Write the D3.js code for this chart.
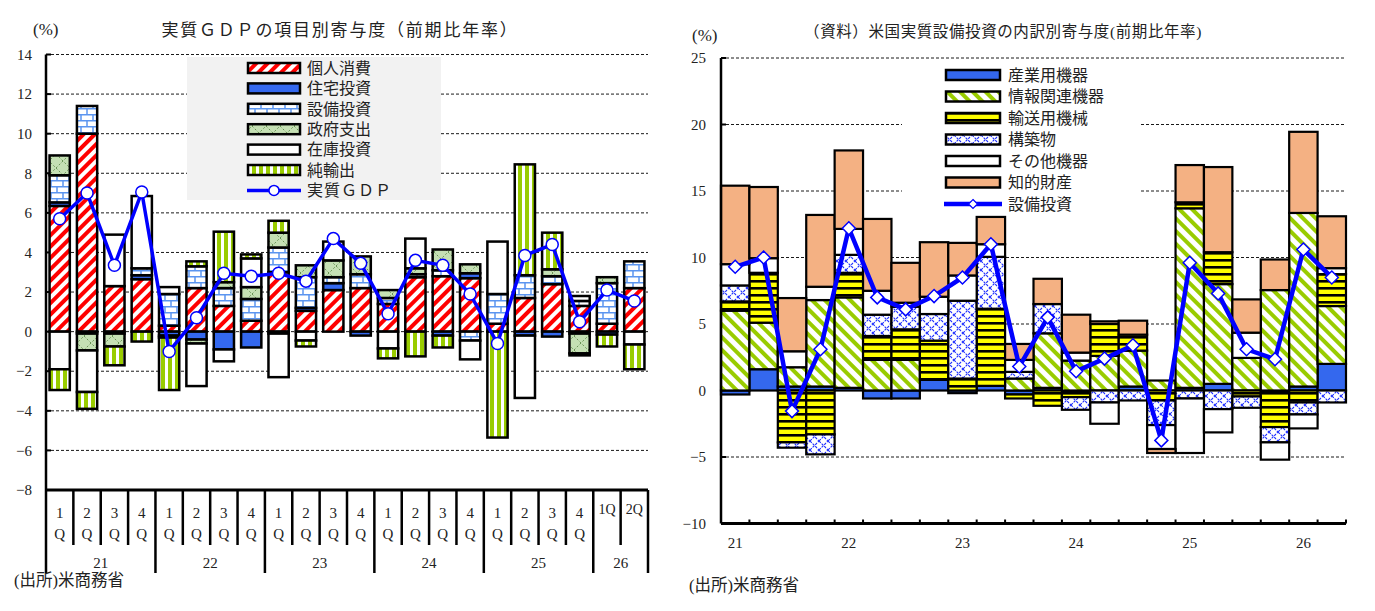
<!DOCTYPE html>
<html>
<head>
<meta charset="utf-8">
<script src="https://cdnjs.cloudflare.com/ajax/libs/d3/7.8.5/d3.min.js"></script>
<style>
body{margin:0;background:#fff;}
text{font-family:"Liberation Serif","Noto Sans CJK JP",serif;fill:#222;}
</style>
</head>
<body>
<div id="chart"></div>
<script>
// 四半期
var quarters=["21Q1","21Q2","21Q3","21Q4","22Q1","22Q2","22Q3","22Q4","23Q1","23Q2","23Q3","23Q4",
              "24Q1","24Q2","24Q3","24Q4","25Q1","25Q2","25Q3","25Q4","26Q1","26Q2"];

// 左：実質GDPの項目別寄与度
var gdpKeys=["pce","res","equip","gov","inv","nx"];
var gdpNames=["個人消費","住宅投資","設備投資","政府支出","在庫投資","純輸出"];
var pce  =[6.35,10.0,2.3,2.65,0.3,2.2,1.3,0.55,3.0,1.05,2.1,2.2,1.4,2.75,2.8,2.7,0.4,1.7,2.4,1.3,0.4,2.2];
var res  =[0.18,-0.1,-0.1,0.2,-0.2,-0.4,-0.9,-0.8,-0.1,0.15,0.35,-0.2,0,0,-0.2,0.25,0,-0.2,-0.25,-0.1,-0.15,0];
var equip=[1.37,1.4,0,0.35,1.6,1.1,0.9,1.1,1.25,1.55,0.3,0.7,0.3,0.15,0.3,-0.45,1.5,1.15,0.4,0.25,2.05,1.35];
var gov  =[1.0,-0.85,-0.65,0,-0.1,-0.2,0.3,0.6,0.75,0.6,0.85,0.9,0.4,0.3,1.05,0.45,0,0,0.35,-1.0,0.3,0];
var inv  =[-1.9,-2.1,2.6,3.65,0.35,-2.15,-0.6,1.45,-2.2,-0.45,0.95,0,-0.85,1.5,0,-0.95,2.65,-3.15,0,0.25,0,-0.65];
var nx   =[-1.05,-0.85,-0.95,-0.5,-2.65,0.25,2.55,0.2,0.6,-0.3,0,0,-0.5,-1.25,-0.6,0,-5.35,5.6,1.85,-0.1,-0.6,-1.25];
var gdp  =[5.7,7.0,3.35,7.05,-1.0,0.7,2.95,2.8,2.95,2.55,4.7,3.45,0.9,3.6,3.35,1.9,-0.6,3.85,4.4,0.5,2.1,1.55];
var gdpTicks=d3.range(-8,15,2);

// 右：米国実質設備投資の内訳別寄与度
var invKeys=["ind","info","trans","struct","other","ip"];
var invNames=["産業用機器","情報関連機器","輸送用機械","構築物","その他機器","知的財産"];
var ind   =[-0.3,1.6,0.3,0.3,0.2,-0.6,-0.6,0.8,-0.2,0.35,-0.3,0.2,-0.15,0,0.3,0,0.2,0.5,0,-0.1,0.3,2.0];
var info  =[6.0,3.5,1.45,6.5,6.8,2.3,2.3,0,0,0,0.9,4.1,2.25,2.6,2.7,0.75,13.5,7.5,2.45,7.55,13.05,4.35];
var trans =[0.7,3.75,-3.9,-3.3,1.85,1.8,2.3,2.95,0.9,5.8,-0.3,-1.15,-0.35,2.4,1.2,-0.75,0.45,2.4,-0.45,-2.65,-0.9,2.4];
var struct=[1.2,0,-0.4,-1.5,1.35,1.6,1.7,2.0,5.85,3.9,0.5,2.2,-0.95,-0.9,-0.75,-1.85,-0.6,-1.4,-0.85,-1.15,-0.9,-0.9];
var other =[1.6,1.1,1.2,1.0,1.95,1.8,0.3,1.3,1.9,0.95,0.9,0,0.6,-1.6,0,-1.8,-4.1,-1.75,1.9,-1.3,-1.05,0.45];
var ip    =[5.9,5.35,4.0,5.4,5.9,5.4,3.0,4.1,2.45,2.05,1.2,1.9,2.85,0.2,1.05,-0.3,2.8,6.4,2.5,2.3,6.1,3.9];
var capex =[9.3,10.0,-1.55,3.1,12.2,7.0,6.1,7.1,8.5,11.0,1.8,5.5,1.45,2.4,3.4,-3.75,9.6,7.3,3.1,2.35,10.6,8.5];
var invTicks=d3.range(-10,26,5);

var svg=d3.select("#chart").append("svg").attr("width",1375).attr("height",611);
var defs=svg.append("defs");

// 模様
function stripes(id,size,bg,color,bw,angle){
  var p=defs.append("pattern").attr("id",id).attr("patternUnits","userSpaceOnUse")
    .attr("width",size).attr("height",size).attr("patternTransform","rotate("+angle+")");
  p.append("rect").attr("width",size).attr("height",size).attr("fill",bg);
  p.append("rect").attr("width",bw).attr("height",size).attr("fill",color);
}
stripes("pPce",8,"#fff","#ff0000",4,45);
stripes("pNx",7,"#fff","#99cc00",4,0);
stripes("pInfo",9,"#fff","#99cc00",4,-45);
stripes("pTrans",7,"#ffff00","#000",2.6,90);

var brick=defs.append("pattern").attr("id","pEquip").attr("patternUnits","userSpaceOnUse").attr("width",12).attr("height",12);
brick.append("rect").attr("width",12).attr("height",12).attr("fill","#fff");
brick.append("path").attr("d","M0,0.75H12M0,6.75H12M3,0.75V6.75M9,6.75V12").attr("stroke","#5b95f0").attr("stroke-width",1.5).attr("fill","none");

var gv=defs.append("pattern").attr("id","pGov").attr("patternUnits","userSpaceOnUse").attr("width",14).attr("height",14);
gv.append("rect").attr("width",14).attr("height",14).attr("fill","#c5e0b4");
gv.append("path").attr("d","M0,14L14,0M0,0L14,14").attr("stroke","#5d8a4a").attr("stroke-width",0.9).attr("stroke-dasharray","2,2").attr("fill","none");

var st=defs.append("pattern").attr("id","pStruct").attr("patternUnits","userSpaceOnUse").attr("width",9).attr("height",9);
st.append("rect").attr("width",9).attr("height",9).attr("fill","#fff");
st.append("path").attr("d","M0,9L9,0M0,0L9,9").attr("stroke","#1f2fff").attr("stroke-width",1.1).attr("stroke-dasharray","2.5,1.2").attr("fill","none");

var blue="#3468ee";
var gdpFill={pce:"url(#pPce)",res:blue,equip:"url(#pEquip)",gov:"url(#pGov)",inv:"#fff",nx:"url(#pNx)"};
var invFill={ind:blue,info:"url(#pInfo)",trans:"url(#pTrans)",struct:"url(#pStruct)",other:"#fff",ip:"#f4b183"};

function rows(keys,arrs){
  return quarters.map(function(q,i){
    var r={q:q};
    keys.forEach(function(k,j){r[k]=arrs[j][i];});
    return r;
  });
}
var stackGen=function(keys){return d3.stack().keys(keys).offset(d3.stackOffsetDiverging);};

/* ================= 左のグラフ ================= */
var xL=d3.scaleBand().domain(quarters).range([46,648]).paddingInner(0.26).paddingOuter(0.13);
var yL=d3.scaleLinear().domain([-8,14]).range([490,54.5]);
var lStart=46, lEnd=648;

svg.append("text").text("(%)").attr("x",33).attr("y",35).attr("font-size",17);
svg.append("text").text("実質ＧＤＰの項目別寄与度（前期比年率）").attr("x",340).attr("y",36)
  .attr("text-anchor","middle").attr("font-size",17).attr("letter-spacing",1.8);

//横線
svg.selectAll(".glL").data(gdpTicks.filter(function(d){return d>-8;})).enter().append("line")
  .attr("x1",lStart).attr("x2",lEnd).attr("y1",yL).attr("y2",yL)
  .attr("stroke","#000").attr("stroke-width",0.9).attr("stroke-dasharray","3,2");
//目盛
svg.selectAll(".tlL").data(gdpTicks).enter().append("text")
  .text(function(d){return d<0?"\u2212"+(-d):d;})
  .attr("x",32).attr("y",yL).attr("dy",".35em").attr("text-anchor","end").attr("font-size",15);
svg.selectAll(".tkL").data(gdpTicks).enter().append("line")
  .attr("x1",lStart).attr("x2",lStart+5).attr("y1",yL).attr("y2",yL).attr("stroke","#000").attr("stroke-width",2);

//凡例の背景
svg.append("rect").attr("x",187).attr("y",57).attr("width",254).attr("height",143).attr("fill","#f2f2f2");

//棒
var gStack=stackGen(gdpKeys)(rows(gdpKeys,[pce,res,equip,gov,inv,nx]));
svg.append("g").selectAll("g").data(gStack).enter().append("g")
  .attr("fill",function(s){return gdpFill[s.key];})
  .selectAll("rect").data(function(s){return s.filter(function(d){return d[1]!==d[0];});}).enter().append("rect")
  .attr("x",function(d){return xL(d.data.q);}).attr("width",xL.bandwidth())
  .attr("y",function(d){return yL(Math.max(d[0],d[1]));})
  .attr("height",function(d){return Math.abs(yL(d[0])-yL(d[1]));})
  .attr("stroke","#000").attr("stroke-width",2.5);

//実質GDP
var lineL=d3.line().x(function(d,i){return xL(quarters[i])+xL.bandwidth()/2;}).y(function(d){return yL(d);});
svg.append("path").datum(gdp).attr("d",lineL).attr("fill","none").attr("stroke","#0000ff").attr("stroke-width",3.5);
svg.selectAll(".dotL").data(gdp).enter().append("circle")
  .attr("cx",function(d,i){return xL(quarters[i])+xL.bandwidth()/2;}).attr("cy",yL).attr("r",6)
  .attr("fill","#fff").attr("stroke","#0000ff").attr("stroke-width",1.5);

//軸
svg.append("line").attr("x1",lStart).attr("x2",lStart).attr("y1",yL(14)).attr("y2",573).attr("stroke","#000").attr("stroke-width",2.5);
svg.append("line").attr("x1",lStart).attr("x2",lEnd).attr("y1",yL(-8)).attr("y2",yL(-8)).attr("stroke","#000").attr("stroke-width",3);
var stepL=xL.step();
svg.selectAll(".sepL").data(d3.range(1,quarters.length+1)).enter().append("line")
  .attr("x1",function(k){return lStart+k*stepL;}).attr("x2",function(k){return lStart+k*stepL;})
  .attr("y1",yL(-8)).attr("y2",function(k){return (k%4===0||k===quarters.length)?573:545;})
  .attr("stroke","#000").attr("stroke-width",2.5);
//四半期ラベル
quarters.forEach(function(q,i){
  var cx=xL(q)+xL.bandwidth()/2, n=q.slice(3);
  if(q.slice(0,2)==="26"){
    svg.append("text").text(n+"Q").attr("x",cx).attr("y",514).attr("text-anchor","middle").attr("font-size",14);
  }else{
    svg.append("text").text(n).attr("x",cx).attr("y",518).attr("text-anchor","middle").attr("font-size",15);
    svg.append("text").text("Q").attr("x",cx).attr("y",539).attr("text-anchor","middle").attr("font-size",15);
  }
});
//年ラベル
var years=Array.from(d3.group(quarters,function(q){return q.slice(0,2);}),function(e){return {y:e[0],qs:e[1]};});
years.forEach(function(g){
  var a=xL(g.qs[0]), b=xL(g.qs[g.qs.length-1])+xL.bandwidth();
  svg.append("text").text(g.y).attr("x",(a+b)/2).attr("y",568).attr("text-anchor","middle").attr("font-size",15);
});
svg.append("text").text("(出所)米商務省").attr("x",14).attr("y",586).attr("font-size",16.5);

//凡例
gdpKeys.forEach(function(k,i){
  var cy=68+i*20.4;
  svg.append("rect").attr("x",248).attr("y",cy-5).attr("width",52).attr("height",10).attr("fill",gdpFill[k]).attr("stroke","#000").attr("stroke-width",2.5);
  svg.append("text").text(gdpNames[i]).attr("x",307).attr("y",cy).attr("dy",".36em").attr("font-size",16);
});
var lgY=68+6*20.4;
svg.append("line").attr("x1",247).attr("x2",301).attr("y1",lgY).attr("y2",lgY).attr("stroke","#0000ff").attr("stroke-width",3.5);
svg.append("circle").attr("cx",274).attr("cy",lgY).attr("r",5).attr("fill","#fff").attr("stroke","#0000ff").attr("stroke-width",1.5);
svg.append("text").text("実質ＧＤＰ").attr("x",307).attr("y",lgY).attr("dy",".36em").attr("font-size",16).attr("letter-spacing",1);

/* ================= 右のグラフ ================= */
var xR=d3.scaleBand().domain(quarters).range([721,1346]).padding(0);
var yR=d3.scaleLinear().domain([-10,25]).range([523.5,58]);
var rStart=721, rEnd=1346;

svg.append("text").text("(%)").attr("x",692).attr("y",41).attr("font-size",17);
svg.append("text").text("（資料）米国実質設備投資の内訳別寄与度(前期比年率)").attr("x",1003).attr("y",37)
  .attr("text-anchor","middle").attr("font-size",15.5).attr("letter-spacing",0.6);

svg.selectAll(".glR").data(invTicks.filter(function(d){return d>-10;})).enter().append("line")
  .attr("x1",rStart).attr("x2",rEnd).attr("y1",yR).attr("y2",yR)
  .attr("stroke","#000").attr("stroke-width",0.9).attr("stroke-dasharray","3,2");
svg.selectAll(".tlR").data(invTicks).enter().append("text")
  .text(function(d){return d<0?"\u2212"+(-d):d;})
  .attr("x",706).attr("y",yR).attr("dy",".35em").attr("text-anchor","end").attr("font-size",15);
svg.selectAll(".tkR").data(invTicks).enter().append("line")
  .attr("x1",rStart).attr("x2",rStart+5).attr("y1",yR).attr("y2",yR).attr("stroke","#000").attr("stroke-width",2);

//凡例の背景（白）
svg.append("rect").attr("x",902).attr("y",62).attr("width",238).attr("height",152).attr("fill","#fff");

var iStack=stackGen(invKeys)(rows(invKeys,[ind,info,trans,struct,other,ip]));
svg.append("g").selectAll("g").data(iStack).enter().append("g")
  .attr("fill",function(s){return invFill[s.key];})
  .selectAll("rect").data(function(s){return s.filter(function(d){return d[1]!==d[0];});}).enter().append("rect")
  .attr("x",function(d){return xR(d.data.q);}).attr("width",xR.bandwidth())
  .attr("y",function(d){return yR(Math.max(d[0],d[1]));})
  .attr("height",function(d){return Math.abs(yR(d[0])-yR(d[1]));})
  .attr("stroke","#000").attr("stroke-width",2.2);

var lineR=d3.line().x(function(d,i){return xR(quarters[i])+xR.bandwidth()/2;}).y(function(d){return yR(d);});
svg.append("path").datum(capex).attr("d",lineR).attr("fill","none").attr("stroke","#0000ff").attr("stroke-width",4.5);
svg.selectAll(".dotR").data(capex).enter().append("path")
  .attr("d","M0,-6.5L6.5,0L0,6.5L-6.5,0Z")
  .attr("transform",function(d,i){return "translate("+(xR(quarters[i])+xR.bandwidth()/2)+","+yR(d)+")";})
  .attr("fill","#fff").attr("stroke","#0000ff").attr("stroke-width",1.5);

//軸
svg.append("line").attr("x1",rStart).attr("x2",rStart).attr("y1",yR(25)).attr("y2",yR(-10)).attr("stroke","#000").attr("stroke-width",2.5);
svg.append("line").attr("x1",rStart).attr("x2",rEnd).attr("y1",yR(-10)).attr("y2",yR(-10)).attr("stroke","#000").attr("stroke-width",3);
var stepR=xR.step();
svg.selectAll(".tqR").data(d3.range(1,quarters.length+1)).enter().append("line")
  .attr("x1",function(k){return rStart+k*stepR;}).attr("x2",function(k){return rStart+k*stepR;})
  .attr("y1",yR(-10)).attr("y2",yR(-10)-4).attr("stroke","#000").attr("stroke-width",2);
years.forEach(function(g){
  svg.append("text").text(g.y).attr("x",xR(g.qs[0])+xR.bandwidth()/2).attr("y",548).attr("text-anchor","middle").attr("font-size",15);
});
svg.append("text").text("(出所)米商務省").attr("x",689).attr("y",591).attr("font-size",16.5);

//凡例
invKeys.forEach(function(k,i){
  var cy=75+i*21.5;
  svg.append("rect").attr("x",946).attr("y",cy-5).attr("width",54).attr("height",10).attr("fill",invFill[k]).attr("stroke","#000").attr("stroke-width",2.5);
  svg.append("text").text(invNames[i]).attr("x",1008).attr("y",cy).attr("dy",".36em").attr("font-size",16);
});
var lgR=75+6*21.5;
svg.append("line").attr("x1",944).attr("x2",1002).attr("y1",lgR).attr("y2",lgR).attr("stroke","#0000ff").attr("stroke-width",4.5);
svg.append("path").attr("d","M0,-4.5L4.5,0L0,4.5L-4.5,0Z").attr("transform","translate(973,"+lgR+")")
  .attr("fill","#fff").attr("stroke","#0000ff").attr("stroke-width",1.2);
svg.append("text").text("設備投資").attr("x",1008).attr("y",lgR).attr("dy",".36em").attr("font-size",16);
</script>
</body>
</html>
